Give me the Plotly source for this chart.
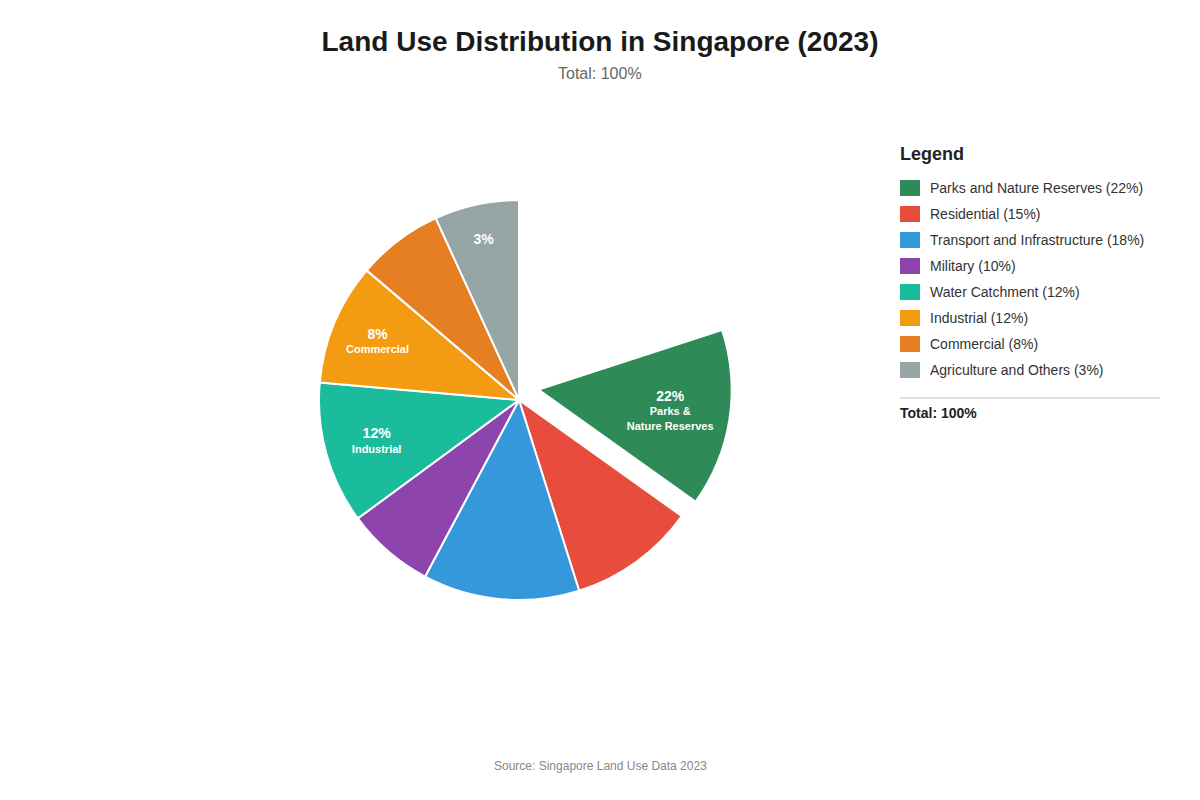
import plotly.graph_objects as go

# Land use shares (legend values, %)
categories = ["Parks and Nature Reserves", "Residential", "Transport and Infrastructure",
              "Military", "Water Catchment", "Industrial", "Commercial", "Agriculture and Others"]
shares = [22, 15, 18, 10, 12, 12, 8, 3]
colors = ["#2E8B57", "#E74C3C", "#3498DB", "#8E44AD", "#1ABC9C", "#F39C12", "#E67E22", "#95A5A6"]

# The picture caught the pie half way through its opening animation:
# arc spans (degrees) as actually drawn, and the still empty arc at the top right
arc_deg = [53.5, 37, 45.5, 25.7, 41.3, 35.4, 25, 24.6]
empty_arc_deg = 72

# labels that show inside each drawn slice
slice_pct = ["22%", "", "", "", "12%", "8%", "", "3%"]
slice_name = ["Parks &amp;<br>Nature Reserves", "", "", "", "Industrial", "Commercial", "", ""]

W, H = 1200, 800
FONT = "Liberation Sans, Arial, Helvetica, sans-serif"
CLEAR = "rgba(0,0,0,0)"


def px_x(x):
    return x / W


def px_y(y):
    return 1 - y / H


def label_text(pct, name):
    if not pct:
        return ""
    lines = ["<span style='font-size:14px'><b>%s</b></span>" % pct]
    for part in name.split("<br>"):
        if part:
            lines.append("<b>%s</b>" % part)
    return "<br>".join(lines)


def domain_for(cx, cy, r):
    return dict(x=[px_x(cx - r), px_x(cx + r)], y=[px_y(cy + r), px_y(cy - r)])


texts = [label_text(p, n) for p, n in zip(slice_pct, slice_name)]
n = len(categories)

# pie geometry (px)
CX, CY, R = 519, 400, 200
# the exploded first slice: shifted and slightly smaller
PULL_DX, PULL_DY, R_PULLED = 21.7, -10, 190

pie_common = dict(
    sort=False, direction="clockwise", rotation=0,
    textinfo="text", textposition="inside", insidetextorientation="horizontal",
    textfont=dict(color="white", size=11, family=FONT),
    showlegend=False, hoverinfo="skip",
)

fig = go.Figure()

# all slices but the exploded one
fig.add_trace(go.Pie(
    values=[empty_arc_deg] + arc_deg,
    labels=["empty"] + categories,
    text=["", ""] + texts[1:],
    marker=dict(colors=[CLEAR, CLEAR] + colors[1:],
                line=dict(color=[CLEAR, CLEAR] + ["white"] * (n - 1),
                          width=[0, 0] + [2] * (n - 1))),
    domain=domain_for(CX, CY, R),
    **pie_common
))

# the exploded slice
fig.add_trace(go.Pie(
    values=[empty_arc_deg, arc_deg[0], sum(arc_deg[1:])],
    labels=["empty", categories[0], "rest"],
    text=["", texts[0], ""],
    marker=dict(colors=[CLEAR, colors[0], CLEAR], line=dict(width=0)),
    domain=domain_for(CX + PULL_DX, CY + PULL_DY, R_PULLED),
    **pie_common
))

shapes = []
annotations = [
    dict(text="Total: 100%", x=0.5, y=px_y(73), xanchor="center", yanchor="middle",
         font=dict(size=16, color="#666", family=FONT)),
    dict(text="Source: Singapore Land Use Data 2023", x=0.5, y=px_y(766),
         xanchor="center", yanchor="middle",
         font=dict(size=12, color="#888", family=FONT)),
    dict(text="<b>Legend</b>", x=px_x(900), y=px_y(154), xanchor="left", yanchor="middle",
         xshift=-2, font=dict(size=18, color="#222", family=FONT)),
]

# custom legend
for i, (name, val, col) in enumerate(zip(categories, shares, colors)):
    yc = 188 + i * 26
    shapes.append(dict(type="rect", xref="paper", yref="paper",
                       x0=px_x(900), x1=px_x(920), y0=px_y(yc - 8), y1=px_y(yc + 8),
                       fillcolor=col, line=dict(width=0)))
    annotations.append(dict(text="%s (%d%%)" % (name, val), x=px_x(930), y=px_y(yc),
                            xanchor="left", yanchor="middle", xshift=-2,
                            font=dict(size=14, color="#333", family=FONT)))

shapes.append(dict(type="line", xref="paper", yref="paper",
                   x0=px_x(900), x1=px_x(1160), y0=px_y(398), y1=px_y(398),
                   line=dict(color="#e0e0e0", width=2)))
annotations.append(dict(text="<b>Total: %d%%</b>" % sum(shares), x=px_x(900), y=px_y(413),
                        xanchor="left", yanchor="middle", xshift=-2,
                        font=dict(size=14, color="#222", family=FONT)))

for a in annotations:
    a.update(xref="paper", yref="paper", showarrow=False)

fig.update_layout(
    width=W, height=H,
    margin=dict(l=0, r=0, t=0, b=0),
    paper_bgcolor="white", plot_bgcolor="white",
    title=dict(text="<b>Land Use Distribution in Singapore (2023)</b>", x=0.5, xanchor="center",
               y=px_y(41), yanchor="middle", font=dict(size=28, color="#1a1a1a", family=FONT)),
    shapes=shapes,
    annotations=annotations,
)

fig.write_html("out.html", config={"displayModeBar": False},
               post_script="document.body.style.margin='0';")
